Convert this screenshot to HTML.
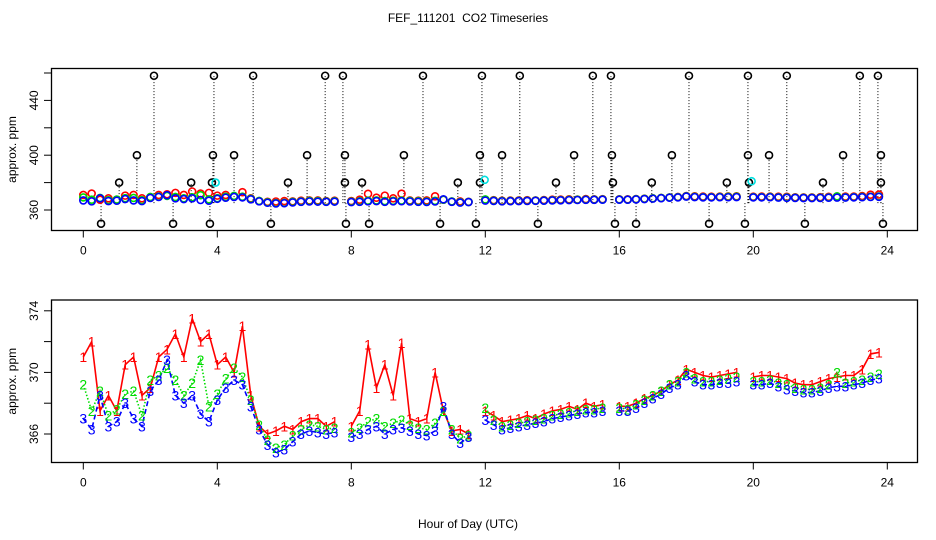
<!DOCTYPE html>
<html><head><meta charset="utf-8">
<style>
html,body{margin:0;padding:0;background:#fff;}
svg{display:block;font-family:"Liberation Sans",sans-serif;}
</style></head>
<body>
<svg id="chart" width="936" height="540" viewBox="0 0 936 540">
<text x="468" y="22" text-anchor="middle" font-size="12" xml:space="preserve">FEF_111201  CO2 Timeseries</text>
<text x="468" y="528" text-anchor="middle" font-size="12">Hour of Day (UTC)</text>
<g id="top"></g>
<g id="bot"></g>
</svg>
<script>
const hours = [];
for (let i = 0; i < 96; i++) hours.push(i * 0.25);
const series1 = [371,372,367.5,368.5,367.5,370.5,371,368.5,369,371,371.5,372.5,371,373.5,372,372.5,370.5,371,370,373,368.5,366.5,366,366.2,366.5,366.3,366.8,367,367,366.5,366.8,null,366.5,367.5,371.8,369,370.5,368.5,371.9,367,366.8,367,370,367.5,366.2,366.3,366,null,367.5,367.2,366.8,366.9,367,367.2,367,367.3,367.5,367.6,367.8,367.6,368,367.8,367.9,null,367.8,367.8,368,368.3,368.5,368.8,369.2,369.5,370.2,370,369.8,369.7,369.8,369.9,370,null,369.7,369.8,369.8,369.7,369.6,369.3,369.2,369.2,369.4,369.6,369.7,369.8,369.8,370.2,371.2,371.3];
const series2 = [369.2,367.5,368.8,367.2,367.6,368.6,368.8,367.2,369.5,369.8,370.3,369.5,368.5,369.3,370.8,367.8,368.6,369.6,370.3,369.7,368.2,366.6,365.6,365.1,365.3,365.9,366.3,366.6,366.5,366.3,366.4,null,366.1,366.4,366.8,367,366.5,366.7,366.9,366.6,366.4,366.3,366.7,367.5,366.3,365.7,365.9,null,367.7,366.9,366.5,366.6,366.7,366.8,366.9,367,367.2,367.3,367.4,367.5,367.6,367.6,367.7,null,367.7,367.6,367.9,368.2,368.5,368.8,369.2,369.4,370,369.6,369.4,369.4,369.5,369.6,369.7,null,369.4,369.4,369.5,369.3,369.2,369,368.9,368.9,369,369.2,370,369.3,369.4,369.5,369.7,369.9];
const series3 = [367,366.3,368.5,366.5,366.8,368,367,366.5,368.8,369.5,370.8,368.5,368,368.5,367.3,366.8,368.2,369,369.5,369.2,367.8,366.3,365.3,364.8,365,365.5,366,366.2,366.1,366,366.1,null,365.8,366,366.3,366.5,366,366.3,366.4,366.2,366,365.9,366.2,367.8,366,365.4,365.8,null,366.9,366.6,366.3,366.4,366.5,366.6,366.7,366.8,367,367.1,367.2,367.3,367.4,367.4,367.5,null,367.5,367.5,367.7,368,368.3,368.6,369,369.2,369.8,369.4,369.2,369.2,369.3,369.3,369.4,null,369.2,369.2,369.3,369.1,368.9,368.8,368.7,368.7,368.8,369,369.1,369.1,369.2,369.3,369.5,369.6];
const outlierHours = [2.11,3.90,5.07,7.22,7.75,10.14,11.90,13.03,15.21,15.75,18.08,19.84,21.0,23.18,23.72,1.6,3.87,4.5,6.68,7.81,9.57,11.84,12.5,14.65,15.78,17.57,19.84,20.47,22.68,23.81,1.07,3.22,3.84,6.11,7.81,8.32,11.18,11.84,14.11,15.81,16.97,19.21,19.87,22.08,23.81,0.53,2.68,3.78,5.6,7.84,8.53,10.65,11.72,13.57,15.87,16.5,18.68,19.75,21.54,23.87];
const outlierValues = [458,458,458,458,458,458,458,458,458,458,458,458,458,458,458,400,400,400,400,400,400,400,400,400,400,400,400,400,400,400,380,380,380,380,380,380,380,380,380,380,380,380,380,380,380,350,350,350,350,350,350,350,350,350,350,350,350,350,350,350];
const cyanHours = [3.95,11.98,19.95];
const cyanValues = [380,382,381];
const xTicks = [0,4,8,12,16,20,24];
const topYTicks = [360,380,400,420,440,460];
const topYLabels = [360,400,440];
const botYTicks = [366,368,370,372,374];
const botYLabels = [366,370,374];

const NS = "http://www.w3.org/2000/svg";
function mk(tag, attrs, parent){const e=document.createElementNS(NS,tag);for(const k in attrs)e.setAttribute(k,attrs[k]);parent.appendChild(e);return e;}
const X = h => 83.3 + h * 33.5;
const Ytop = v => 210 - (v - 360) * 1.37;
const Ybot = v => 434 - (v - 366) * 15.4;

function axes(g, top, bottom, yTicks, yLabels, Y){
  let e = mk('rect',{x:51.5,y:top,width:866,height:bottom-top,fill:'none',stroke:'#000','stroke-width':1.3},g);
   
  xTicks.forEach(t=>{
    let l=mk('line',{x1:X(t),x2:X(t),y1:bottom,y2:bottom+7,stroke:'#000'},g);
     
    let tx=mk('text',{x:X(t),y:bottom+24,'text-anchor':'middle','font-size':12},g); tx.textContent=t;
     
  });
  yTicks.forEach(t=>{
    let l=mk('line',{x1:44,x2:51.5,y1:Y(t),y2:Y(t),stroke:'#000'},g);
     
  });
  yLabels.forEach(t=>{
    let tx=mk('text',{x:0,y:0,'text-anchor':'middle','font-size':12,transform:`translate(38,${Y(t)}) rotate(-90)`},g); tx.textContent=t;
     
  });
  let yl=mk('text',{x:0,y:0,'text-anchor':'middle','font-size':12,transform:`translate(16,${(top+bottom)/2}) rotate(-90)`},g); yl.textContent='approx. ppm';
   
}

const gt=document.getElementById('top'), gb=document.getElementById('bot');
axes(gt,68.5,230.5,topYTicks,topYLabels,Ytop);
axes(gb,300,462.5,botYTicks,botYLabels,Ybot);

outlierHours.forEach((h,i)=>{
  let l=mk('line',{x1:X(h),x2:X(h),y1:Ytop(365),y2:Ytop(outlierValues[i]),stroke:'#000','stroke-dasharray':'1,2'},gt);
   
});
const colors=['#ff0000','#00dd00','#0000ff'];
[series1,series2,series3].forEach((s,si)=>{
  s.forEach((v,i)=>{ if(v===null)return;
    let c=mk('circle',{cx:X(hours[i]),cy:Ytop(v),r:3.5,fill:'none',stroke:colors[si],'stroke-width':1.6},gt);
     
  });
});
outlierHours.forEach((h,i)=>{
  let c=mk('circle',{cx:X(h),cy:Ytop(outlierValues[i]),r:3.5,fill:'none',stroke:'#000','stroke-width':1.6},gt);
   
});
cyanHours.forEach((h,i)=>{
  let c=mk('circle',{cx:X(h),cy:Ytop(cyanValues[i]),r:3.5,fill:'none',stroke:'#00e0e0','stroke-width':1.6},gt);
   
});

const dashes=['none','1.5,2','5,3'];
[series1,series2,series3].forEach((s,si)=>{
  let d='',pen=false;
  s.forEach((v,i)=>{ if(v===null){pen=false;return;} d+=(pen?'L':'M')+X(hours[i]).toFixed(1)+','+Ybot(v).toFixed(1); pen=true;});
  let p=mk('path',{d:d,fill:'none',stroke:colors[si],'stroke-width':1.6,'stroke-dasharray':dashes[si]},gb);
   
});
[series1,series2,series3].forEach((s,si)=>{
  s.forEach((v,i)=>{ if(v===null)return;
    let t=mk('text',{x:X(hours[i]),y:Ybot(v)+5,'text-anchor':'middle','font-size':14,fill:colors[si]},gb);
    t.textContent=String(si+1);
     
  });
});
</script>
</body></html>
